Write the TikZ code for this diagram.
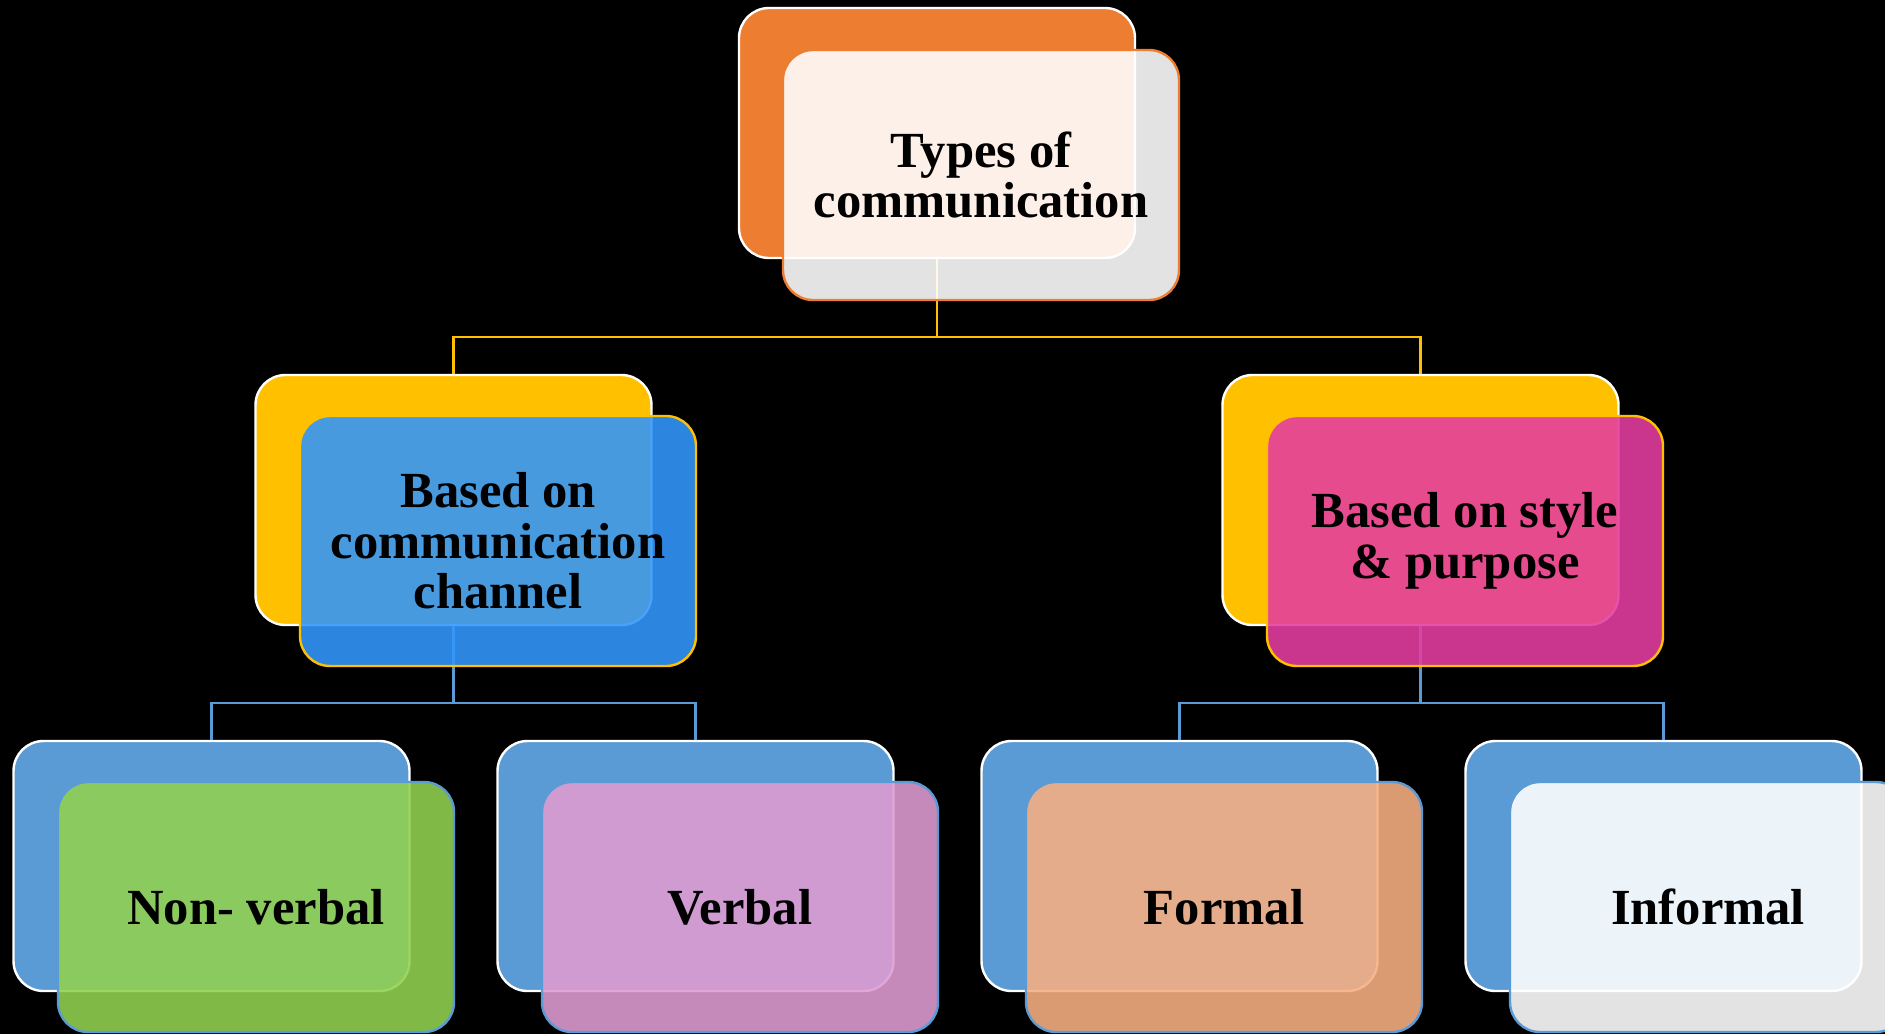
\documentclass[tikz,border=0pt]{standalone}
\usepackage{fontspec}
\setmainfont{Liberation Serif}
\definecolor{cOrange}{HTML}{ED7D31}
\definecolor{cGold}{HTML}{FFC000}
\definecolor{cBlue}{HTML}{5B9BD5}
\definecolor{cMidL}{HTML}{3296FA}
\definecolor{cMidR}{HTML}{E33D9F}
\definecolor{cGreen}{HTML}{92D050}
\definecolor{cLilac}{HTML}{DE9CD1}
\definecolor{cPeach}{HTML}{F6AF82}
\begin{document}
\begin{tikzpicture}[x=0.5pt,y=-0.5pt,
  backbox/.style={draw=white,line width=1.2pt,rounded corners=15pt,minimum width=198pt,minimum height=125pt,inner sep=0pt,rectangle},
  frontbox/.style={line width=1.2pt,rounded corners=15pt,minimum width=198pt,minimum height=125pt,inner sep=0pt,rectangle,fill opacity=0.89,text opacity=1,align=center,font=\fontsize{25.3}{25.2}\selectfont\bfseries,text=black},
  goldline/.style={draw=cGold,line width=1.3pt},
  blueline/.style={draw=cBlue,line width=1.3pt}]
\fill[black] (0,0) rectangle (1885,1034);
\useasboundingbox (0,0) rectangle (1885,1034);
% back boxes
\node[backbox,fill=cOrange] (tb) at (937,133) {};
\node[backbox,fill=cGold] (lb) at (453.5,500) {};
\node[backbox,fill=cGold] (rb) at (1420.5,500) {};
\node[backbox,fill=cBlue] (b1) at (211.5,866) {};
\node[backbox,fill=cBlue] (b2) at (695.5,866) {};
\node[backbox,fill=cBlue] (b3) at (1179.5,866) {};
\node[backbox,fill=cBlue] (b4) at (1663.5,866) {};
% connectors
\coordinate (h1) at (937,337);
\coordinate (h2) at (453.5,703);
\coordinate (h3) at (1420.5,703);
\draw[goldline] (tb.south) -- (h1) -| (lb.north);
\draw[goldline] (h1) -| (rb.north);
\draw[blueline] (lb.south) -- (h2) -| (b1.north);
\draw[blueline] (h2) -| (b2.north);
\draw[blueline] (rb.south) -- (h3) -| (b3.north);
\draw[blueline] (h3) -| (b4.north);
% front boxes
\node[frontbox,draw=cOrange,fill=white] (tf) at (981,175) {Types of\\communication};
\node[frontbox,draw=cGold,fill=cMidL] (lf) at (498,541) {Based on\\communication\\channel};
\node[frontbox,draw=cGold,fill=cMidR] (rf) at (1465,541) {Based on style\\\& purpose};
\node[frontbox,draw=cBlue,fill=cGreen] (f1) at (256,907) {Non- verbal};
\node[frontbox,draw=cBlue,fill=cLilac] (f2) at (740,907) {Verbal};
\node[frontbox,draw=cBlue,fill=cPeach] (f3) at (1224,907) {Formal};
\node[frontbox,draw=cBlue,fill=white] (f4) at (1708,907) {Informal};
\end{tikzpicture}
\end{document}
